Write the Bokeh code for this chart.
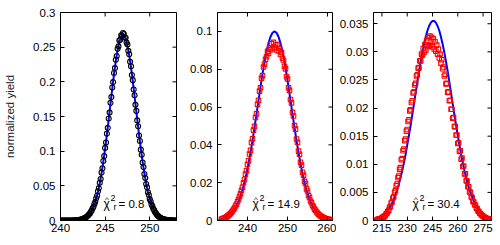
import numpy as np
from bokeh.plotting import figure
from bokeh.layouts import row
from bokeh.models import Range1d, FixedTicker, Label
from bokeh.embed import file_html
from bokeh.resources import INLINE

FONT = "Liberation Sans"

# ---------------- data ----------------
# panel 1: measured yield (black circles), bins start 240.0, width 0.1
x1_start, x1_step = 240.0, 0.1
y1_data = [
    0.0000, 0.0001, 0.0000, 0.0000, 0.0001, 0.0000, 0.0000, 0.0001, 0.0000, 0.0001,
    0.0000, 0.0001, 0.0001, 0.0001, 0.0001, 0.0002, 0.0002, 0.0003, 0.0004, 0.0005,
    0.0007, 0.0009, 0.0011, 0.0015, 0.0017, 0.0023, 0.0027, 0.0034, 0.0041, 0.0050,
    0.0062, 0.0071, 0.0089, 0.0101, 0.0126, 0.0143, 0.0176, 0.0198, 0.0239, 0.0269,
    0.0320, 0.0358, 0.0421, 0.0467, 0.0545, 0.0598, 0.0690, 0.0753, 0.0858, 0.0930,
    0.1047, 0.1125, 0.1253, 0.1336, 0.1472, 0.1556, 0.1697, 0.1780, 0.1919, 0.1996,
    0.2128, 0.2198, 0.2318, 0.2372, 0.2476, 0.2512, 0.2596, 0.2611, 0.2672, 0.2661,
    0.2705,
    0.2688, 0.2640, 0.2636, 0.2566, 0.2538, 0.2447, 0.2398, 0.2288, 0.2224, 0.2098,
    0.2024, 0.1889, 0.1806, 0.1668, 0.1581, 0.1444, 0.1359, 0.1227, 0.1146, 0.1022,
    0.0948, 0.0836, 0.0770, 0.0670, 0.0613, 0.0527, 0.0479, 0.0407, 0.0368, 0.0309,
    0.0277, 0.0230, 0.0204, 0.0168, 0.0148, 0.0120, 0.0105, 0.0084, 0.0073, 0.0058,
    0.0050, 0.0039, 0.0034, 0.0026, 0.0022, 0.0017, 0.0014, 0.0011, 0.0009, 0.0007,
    0.0005, 0.0004, 0.0003, 0.0002, 0.0002, 0.0001, 0.0001, 0.0001, 0.0000, 0.0000,
]
# panel 1: fit curve (blue), sampled from 240.0 every 0.2
f1_start, f1_step = 240.0, 0.2
y1_fit = [
    0.0000, 0.0000, 0.0000, 0.0000, 0.0000, 0.0000, 0.0001,
    0.0001, 0.0002, 0.0004, 0.0007, 0.0011, 0.0017, 0.0027, 0.0040, 0.0060, 0.0086,
    0.0123, 0.0172, 0.0235, 0.0315, 0.0415, 0.0537, 0.0681, 0.0848, 0.1035, 0.1240,
    0.1458, 0.1682, 0.1903, 0.2113, 0.2302, 0.2460, 0.2580, 0.2655,
    0.2680,
    0.2655, 0.2580, 0.2460, 0.2302, 0.2113, 0.1903, 0.1682, 0.1458, 0.1240, 0.1035,
    0.0848, 0.0681, 0.0537, 0.0415, 0.0315, 0.0235, 0.0172, 0.0123, 0.0086, 0.0060,
    0.0040, 0.0027, 0.0017, 0.0011, 0.0007, 0.0004, 0.0002, 0.0001, 0.0001, 0.0000,
]

# panel 2: measured yield (red squares), bins start 233.5, width 0.25
x2_start, x2_step = 233.5, 0.25
y2_data = [
    0.0008, 0.0009, 0.0011, 0.0013, 0.0016, 0.0019, 0.0023, 0.0027, 0.0032, 0.0037,
    0.0044, 0.0050, 0.0058, 0.0066, 0.0077, 0.0086, 0.0099, 0.0111, 0.0127, 0.0141,
    0.0160, 0.0176, 0.0200, 0.0217, 0.0245, 0.0264, 0.0296, 0.0316, 0.0352, 0.0371,
    0.0412, 0.0432, 0.0478, 0.0498, 0.0545, 0.0565, 0.0614, 0.0636, 0.0684, 0.0702,
    0.0752, 0.0766, 0.0812, 0.0826, 0.0852, 0.0866, 0.0895, 0.0884, 0.0912, 0.0903,
    0.0935, 0.0908, 0.0942, 0.0915, 0.0928, 0.0902, 0.0930, 0.0897, 0.0911, 0.0878,
    0.0889, 0.0858, 0.0846, 0.0815, 0.0802, 0.0760, 0.0749, 0.0702, 0.0688, 0.0640,
    0.0622, 0.0572, 0.0553, 0.0502, 0.0483, 0.0431, 0.0414, 0.0367, 0.0350, 0.0308,
    0.0293, 0.0255, 0.0240, 0.0207, 0.0196, 0.0167, 0.0156, 0.0132, 0.0122, 0.0103,
    0.0094, 0.0079, 0.0072, 0.0060, 0.0054, 0.0045, 0.0040, 0.0033, 0.0029, 0.0024,
    0.0021, 0.0017, 0.0015, 0.0012, 0.0010, 0.0008, 0.0007, 0.0006, 0.0005, 0.0004,
    0.0003,
]
# panel 2: fit curve, sampled from 232.75 every 0.5
f2_start, f2_step = 232.75, 0.5
y2_fit = [
    0.0004, 0.0006, 0.0008, 0.0012, 0.0017, 0.0024, 0.0032, 0.0044, 0.0059, 0.0077,
    0.0101, 0.0129, 0.0163, 0.0203, 0.0249, 0.0302, 0.0360, 0.0424, 0.0492, 0.0563,
    0.0635, 0.0707, 0.0775, 0.0838, 0.0893, 0.0938, 0.0972, 0.0993, 0.1000,
    0.0993, 0.0972, 0.0938, 0.0893, 0.0838, 0.0775, 0.0707, 0.0635, 0.0563, 0.0492,
    0.0424, 0.0360, 0.0302, 0.0249, 0.0203, 0.0163, 0.0129, 0.0101, 0.0077, 0.0059,
    0.0044, 0.0032, 0.0024, 0.0017, 0.0012, 0.0008, 0.0006, 0.0004, 0.0003,
]

# panel 3: measured yield (red squares), bins start 212.0, width 0.5
x3_start, x3_step = 212.0, 0.5
y3_data = [
    0.0001, 0.0002, 0.0002, 0.0003, 0.0003, 0.0004, 0.0004, 0.0006, 0.0006, 0.0008,
    0.0009, 0.0012, 0.0013, 0.0016, 0.0018, 0.0023, 0.0025, 0.0031, 0.0033, 0.0040,
    0.0042, 0.0050, 0.0053, 0.0062, 0.0065, 0.0076, 0.0079, 0.0091, 0.0094, 0.0108,
    0.0110, 0.0124, 0.0127, 0.0142, 0.0145, 0.0159, 0.0162, 0.0176, 0.0179, 0.0195,
    0.0197, 0.0210, 0.0213, 0.0227, 0.0229, 0.0241, 0.0244, 0.0257, 0.0259, 0.0271,
    0.0272, 0.0284, 0.0284, 0.0296, 0.0294, 0.0306, 0.0299, 0.0313, 0.0303, 0.0320,
    0.0309, 0.0325, 0.0311, 0.0328, 0.0312, 0.0326, 0.0309, 0.0323, 0.0305, 0.0318,
    0.0301, 0.0312, 0.0296, 0.0305, 0.0289, 0.0296, 0.0280, 0.0286, 0.0270, 0.0273,
    0.0257, 0.0260, 0.0243, 0.0244, 0.0228, 0.0229, 0.0213, 0.0214, 0.0198, 0.0198,
    0.0182, 0.0183, 0.0167, 0.0167, 0.0152, 0.0152, 0.0137, 0.0138, 0.0123, 0.0124,
    0.0109, 0.0111, 0.0096, 0.0097, 0.0083, 0.0083, 0.0071, 0.0070, 0.0060, 0.0060,
    0.0051, 0.0050, 0.0042, 0.0041, 0.0034, 0.0033, 0.0028, 0.0027, 0.0022, 0.0021,
    0.0017, 0.0016, 0.0013, 0.0012, 0.0010, 0.0009, 0.0007, 0.0007, 0.0005, 0.0005,
    0.0004, 0.0003, 0.0003, 0.0002, 0.0002, 0.0001,
]
# panel 3: fit curve, sampled from 210 every 1
f3_start, f3_step = 210.0, 1.0
y3_fit = [
    0.0002, 0.0003, 0.0004, 0.0005, 0.0006, 0.0008, 0.0010, 0.0013, 0.0017, 0.0021,
    0.0025, 0.0031, 0.0038, 0.0046, 0.0054, 0.0064, 0.0076, 0.0088, 0.0102, 0.0117,
    0.0134, 0.0151, 0.0169, 0.0188, 0.0207, 0.0227, 0.0246, 0.0265, 0.0283, 0.0299,
    0.0314, 0.0327, 0.0338, 0.0346, 0.0352, 0.0355, 0.0355, 0.0352, 0.0346, 0.0338,
    0.0327, 0.0314, 0.0299, 0.0283, 0.0265, 0.0246, 0.0227, 0.0207, 0.0188, 0.0169,
    0.0151, 0.0134, 0.0117, 0.0102, 0.0088, 0.0076, 0.0064, 0.0054, 0.0046, 0.0038,
    0.0031, 0.0025, 0.0021, 0.0017, 0.0013, 0.0010, 0.0008, 0.0006, 0.0005, 0.0004,
    0.0003,
]

# axes
x1_ticks = [240, 245, 250]
x2_ticks = [240, 250, 260]
x3_ticks = [215, 230, 245, 260, 275]
y1_ticks = [0, 0.05, 0.1, 0.15, 0.2, 0.25, 0.3]
y1_labels = ["0", "0.05", "0.1", "0.15", "0.2", "0.25", "0.3"]
y2_ticks = [0, 0.02, 0.04, 0.06, 0.08, 0.1]
y2_labels = ["0", "0.02", "0.04", "0.06", "0.08", "0.1"]
y3_ticks = [0, 0.005, 0.01, 0.015, 0.02, 0.025, 0.03, 0.035]
y3_labels = ["0", "0.005", "0.01", "0.015", "0.02", "0.025", "0.03", "0.035"]

chi_values = ["0.8", "14.9", "30.4"]
chi_pos = [(246.5, 0.0232), (245.0, 0.0085), (242.0, 0.00285)]

y_title = "normalized yield"

H = 245
TOP, BOTTOM = 12, 25
FRAME_H = H - TOP - BOTTOM
TICK_FS = "11.5px"
TICK_LEN = 4


def grid(start, step, n):
    return [round(start + step * i, 4) for i in range(n)]


def panel(width, bl, br, xr, yr, xt, yt, ylab, title=None):
    p = figure(width=width, height=H, x_range=Range1d(*xr), y_range=Range1d(*yr),
               output_backend="svg", toolbar_location=None,
               min_border_left=bl, min_border_right=br,
               min_border_top=TOP, min_border_bottom=BOTTOM)
    p.grid.visible = False
    p.outline_line_color = "black"
    p.outline_line_width = 1
    for ax in (p.xaxis[0], p.yaxis[0]):
        ax.major_tick_in = TICK_LEN
        ax.major_tick_out = 0
        ax.minor_tick_in = 0
        ax.minor_tick_out = 0
        ax.axis_line_color = "black"
        ax.major_tick_line_color = "black"
        ax.major_label_text_font = FONT
        ax.major_label_text_font_size = TICK_FS
        ax.major_label_text_color = "black"
    p.xaxis[0].ticker = FixedTicker(ticks=xt)
    p.xaxis[0].major_label_standoff = 3
    p.yaxis[0].ticker = FixedTicker(ticks=yt)
    p.yaxis[0].major_label_standoff = 5
    p.yaxis[0].major_label_overrides = {t: s for t, s in zip(yt, ylab)}
    if title:
        p.yaxis[0].axis_label = title
        p.yaxis[0].axis_label_text_font = FONT
        p.yaxis[0].axis_label_text_font_size = TICK_FS
        p.yaxis[0].axis_label_text_font_style = "normal"
        p.yaxis[0].axis_label_text_color = "#222222"
        p.yaxis[0].axis_label_standoff = 14
    # mirrored inward ticks on the top and right edges of the frame
    frame_w = width - bl - br
    dy = (yr[1] - yr[0]) * TICK_LEN / FRAME_H
    dx = (xr[1] - xr[0]) * TICK_LEN / frame_w
    p.segment(x0=xt, y0=[yr[1]] * len(xt), x1=xt, y1=[yr[1] - dy] * len(xt),
              line_color="black", line_width=1)
    p.segment(x0=[xr[1]] * len(yt), y0=yt, x1=[xr[1] - dx] * len(yt), y1=yt,
              line_color="black", line_width=1)
    return p


def chi_label(p, x0, y0, val):
    common = dict(x=x0, y=y0, text_font=FONT, text_color="black", text_baseline="alphabetic")
    p.add_layout(Label(text="\u03c7", x_offset=-15, y_offset=0, text_font_size="12px", **common))
    p.add_layout(Label(text="^", x_offset=-13.5, y_offset=5, text_font_size="8px", **common))
    p.add_layout(Label(text="2", x_offset=-8, y_offset=6, text_font_size="9px", **common))
    p.add_layout(Label(text="r", x_offset=-5, y_offset=-3, text_font_size="9px", **common))
    p.add_layout(Label(text="= " + val, x_offset=0, y_offset=0, text_font_size=TICK_FS, **common))


p1 = panel(180, 60, 4, (240, 253), (0, 0.3), x1_ticks, y1_ticks, y1_labels, y_title)
p2 = panel(156, 37, 4, (232.5, 261.25), (0, 0.11), x2_ticks, y2_ticks, y2_labels)
p3 = panel(164, 37, 9, (210, 280), (0, 0.037), x3_ticks, y3_ticks, y3_labels)

p1.line(grid(f1_start, f1_step, len(y1_fit)), y1_fit, line_color="#0000ff", line_width=2)
p1.scatter(grid(x1_start, x1_step, len(y1_data)), y1_data, marker="circle", size=5,
           fill_color=None, line_color="black", line_width=1.1)

p2.line(grid(f2_start, f2_step, len(y2_fit)), y2_fit, line_color="#0000ff", line_width=2)
p2.scatter(grid(x2_start, x2_step, len(y2_data)), y2_data, marker="square", size=4.5,
           fill_color=None, line_color="#ff0000", line_width=1.1)

p3.line(grid(f3_start, f3_step, len(y3_fit)), y3_fit, line_color="#0000ff", line_width=2)
p3.scatter(grid(x3_start, x3_step, len(y3_data)), y3_data, marker="square", size=4.5,
           fill_color=None, line_color="#ff0000", line_width=1.1)

for p, (cx, cy), v in zip((p1, p2, p3), chi_pos, chi_values):
    chi_label(p, cx, cy, v)

layout = row(p1, p2, p3)
open("out.html", "w").write(file_html(layout, INLINE))
